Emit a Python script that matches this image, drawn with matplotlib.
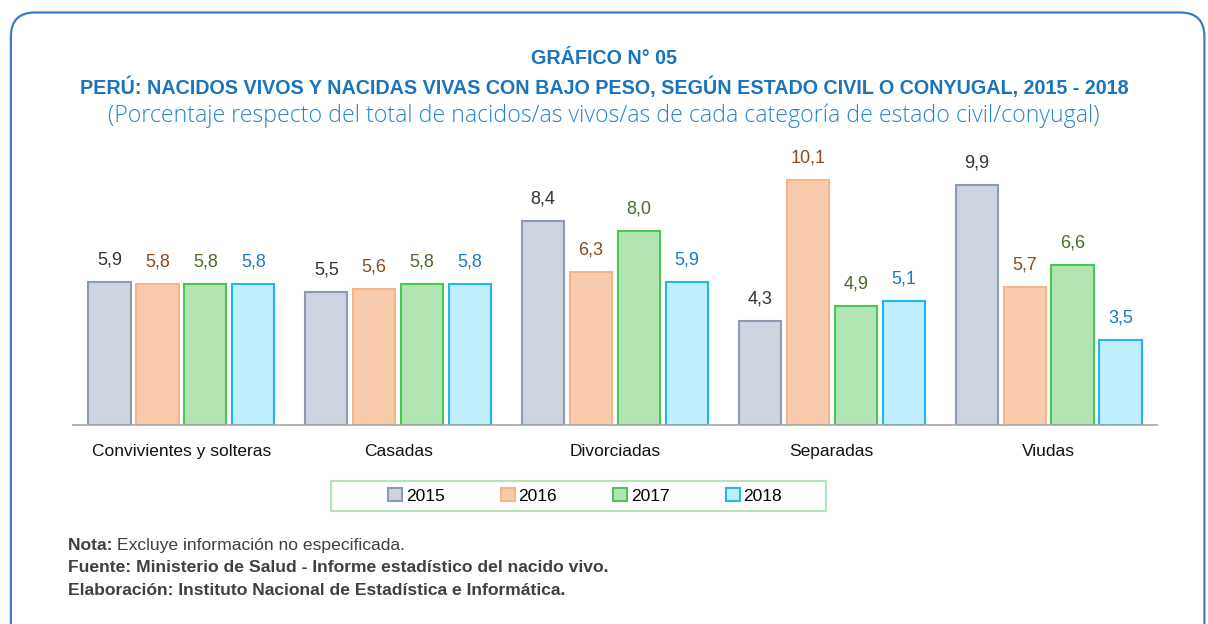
import matplotlib.pyplot as plt
import numpy as np
from matplotlib.patches import FancyBboxPatch, Rectangle

plt.rcParams['font.family'] = ['Liberation Sans', 'DejaVu Sans']

# Data
categories = ['Convivientes y solteras', 'Casadas', 'Divorciadas', 'Separadas', 'Viudas']
years = ['2015', '2016', '2017', '2018']
v2015 = [5.9, 5.5, 8.4, 4.3, 9.9]
v2016 = [5.8, 5.6, 6.3, 10.1, 5.7]
v2017 = [5.8, 5.8, 8.0, 4.9, 6.6]
v2018 = [5.8, 5.8, 5.9, 5.1, 3.5]
series = [v2015, v2016, v2017, v2018]

fills = ['#cdd3df', '#f8cbad', '#b0e4b3', '#bfeeff']
edges = ['#8a9bb3', '#f3b58b', '#4cc553', '#22b5ee']
label_colors = ['#333333', '#8a4a1c', '#4a6a2c', '#1b7bc4']
blue = '#1a74bd'

fig = plt.figure(figsize=(12.08, 6.24), dpi=100)

# rounded frame around the whole chart
frame = FancyBboxPatch((0.009, -0.05), 0.988, 1.03, boxstyle='round,pad=0,rounding_size=0.02',
                       transform=fig.transFigure, facecolor='none', edgecolor='#3a7cc2', linewidth=1.6,
                       mutation_aspect=1208 / 624, zorder=-1)
fig.patches.append(frame)

ax = fig.add_axes([73 / 1208, 1 - 425 / 624, (1157 - 73) / 1208, 275 / 624])
x = np.arange(len(categories))
width = 0.195
step = 0.221
for i, vals in enumerate(series):
    pos = x + (i - 1.5) * step
    bars = ax.bar(pos, vals, width, color=fills[i], edgecolor=edges[i], linewidth=1.5, label=years[i], zorder=2)
    for b, v in zip(bars, vals):
        ax.text(b.get_x() + b.get_width() / 2, v + 0.55, f'{v:.1f}'.replace('.', ','),
                ha='center', va='bottom', fontsize=13, color=label_colors[i])

ax.set_xlim(-0.5, 4.5)
ax.set_ylim(0, 275 / 24.26)
ax.set_xticks(x)
ax.set_xticklabels(categories, fontsize=12.5, color='#111111')
ax.tick_params(axis='x', length=0, pad=14)
ax.set_yticks([])
for s in ['top', 'right', 'left']:
    ax.spines[s].set_visible(False)
ax.spines['bottom'].set_color('#a6a6a6')
ax.spines['bottom'].set_linewidth(1.2)
ax.set_facecolor('none')

# legend without its own frame, box drawn separately
leg = fig.legend(loc='center', bbox_to_anchor=(585 / 1208, 1 - 496 / 624), ncol=4, fontsize=12.5,
                 frameon=False, handlelength=0.8, handleheight=0.8, handletextpad=0.2,
                 columnspacing=3.25)
fig.patches.append(Rectangle((331 / 1208, 1 - 511 / 624), (826 - 331) / 1208, 30 / 624,
                             transform=fig.transFigure, facecolor='none', edgecolor='#b5e3b7', linewidth=1.5))

fig.text(0.5, 1 - 58 / 624, 'GRÁFICO N° 05', ha='center', va='center', fontsize=14.2,
         fontweight='bold', color=blue)
fig.text(0.5, 1 - 87 / 624, 'PERÚ: NACIDOS VIVOS Y NACIDAS VIVAS CON BAJO PESO, SEGÚN ESTADO CIVIL O CONYUGAL, 2015 - 2018',
         ha='center', va='center', fontsize=14.2, fontweight='bold', color=blue)
fig.text(0.5, 1 - 116 / 624, '(Porcentaje respecto del total de nacidos/as vivos/as de cada categoría de estado civil/conyugal)',
         ha='center', va='center', fontsize=16.7, color='#2585cc', family=['Open Sans', 'DejaVu Sans'],
         fontweight='light')

note_color = '#404040'
note_size = 12.6
nota = fig.text(68 / 1208, 1 - 550 / 624, 'Nota: ', fontsize=note_size, fontweight='bold',
                color=note_color, va='baseline')
fig.canvas.draw()
bb = nota.get_window_extent()
fig.text(bb.x1 / fig.bbox.width, 1 - 550 / 624, 'Excluye información no especificada.', fontsize=note_size,
         color=note_color, va='baseline')
fig.text(68 / 1208, 1 - 572 / 624, 'Fuente: Ministerio de Salud - Informe estadístico del nacido vivo.',
         fontsize=note_size, fontweight='bold', color=note_color, va='baseline')
fig.text(68 / 1208, 1 - 595 / 624, 'Elaboración: Instituto Nacional de Estadística e Informática.',
         fontsize=note_size, fontweight='bold', color=note_color, va='baseline')

fig.savefig('out.png', dpi=100)
